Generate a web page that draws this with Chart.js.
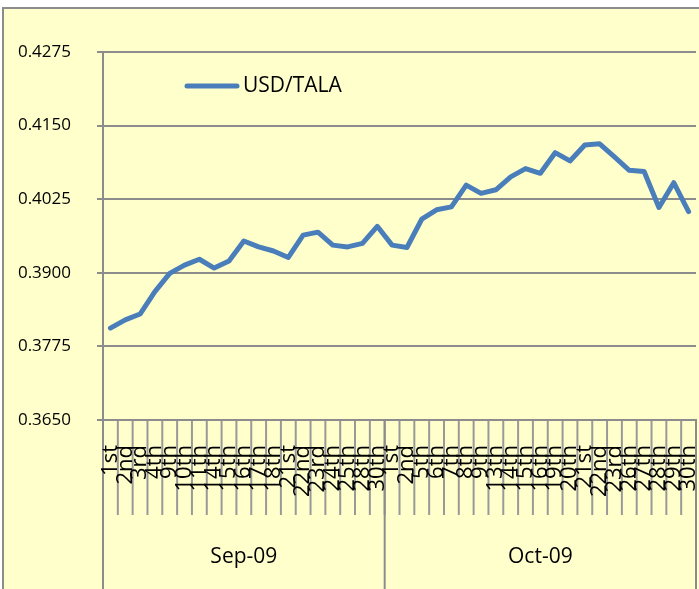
<!DOCTYPE html>
<html>
<head>
<meta charset="utf-8">
<script src="https://cdn.jsdelivr.net/npm/chart.js@4"></script>
<style>
html,body{margin:0;padding:0;background:#fff;}
#wrap{position:absolute;left:0;top:0;width:699px;height:589px;}
</style>
</head>
<body>
<div id="wrap"><canvas id="c" width="699" height="589"></canvas></div>
<script>
// ---- data ----
const months = ['Sep-09', 'Oct-09'];
const sepDays = ['1st','2nd','3rd','4th','9th','10th','11th','14th','15th','16th','17th','18th','21st','22nd','23rd','24th','25th','28th','30th'];
const octDays = ['1st','2nd','5th','6th','7th','8th','9th','13th','14th','15th','16th','19th','20th','21st','22nd','23rd','26th','27th','28th','29th','30th'];
const sepValues = [0.3806,0.3820,0.3830,0.3868,0.3899,0.3913,0.3923,0.3908,0.3920,0.3954,0.3944,0.3937,0.3926,0.3964,0.3969,0.3947,0.3944,0.3950,0.3979];
const octValues = [0.3947,0.3943,0.3991,0.4007,0.4012,0.4049,0.4035,0.4041,0.4063,0.4077,0.4069,0.4104,0.4090,0.4117,0.4119,0.4097,0.4074,0.4072,0.4011,0.4053,0.4004];
const seriesName = 'USD/TALA';
const yMin = 0.3650, yMax = 0.4275, yStep = 0.0125;

const labels = sepDays.concat(octDays);
const values = sepValues.concat(octValues);
const groupSizes = [sepDays.length, octDays.length];

const GRID = '#8c8c8c';
const LINE = '#4A7EBB';
const FONT = "'Open Sans', sans-serif";

const decor = {
  id: 'decor',
  beforeDraw(chart) {
    const c = chart.ctx, W = chart.width, H = chart.height;
    const xs = chart.scales.x, area = chart.chartArea;
    c.save();
    c.fillStyle = '#ffffff'; c.fillRect(0, 0, W, H);
    c.fillStyle = '#FFFFCC'; c.fillRect(4, 9, W - 4, H - 9);
    c.strokeStyle = GRID; c.lineWidth = 2;
    c.beginPath(); c.moveTo(3, H); c.lineTo(3, 8); c.lineTo(W, 8); c.stroke();
    // category boundaries below the axis
    const n = labels.length;
    const half = (xs.getPixelForValue(1) - xs.getPixelForValue(0)) / 2;
    c.strokeStyle = '#999999'; c.lineWidth = 2;
    for (let i = 0; i <= n; i++) {
      const px = i < n ? xs.getPixelForValue(i) - half : xs.getPixelForValue(n - 1) + half;
      c.beginPath(); c.moveTo(px, area.bottom); c.lineTo(px, area.bottom + 95); c.stroke();
    }
    // group dividers + month labels
    let start = 0;
    const bounds = [xs.getPixelForValue(0) - half];
    groupSizes.forEach(s => { start += s; bounds.push(xs.getPixelForValue(start - 1) + half); });
    c.strokeStyle = GRID; c.lineWidth = 2;
    bounds.forEach(b => { c.beginPath(); c.moveTo(b, area.bottom); c.lineTo(b, H); c.stroke(); });
    c.fillStyle = '#000'; c.font = '21px ' + FONT; c.textAlign = 'center'; c.textBaseline = 'middle';
    months.forEach((m, i) => c.fillText(m, (bounds[i] + bounds[i + 1]) / 2, 557));
    c.restore();
  },
  afterDraw(chart) {
    const c = chart.ctx;
    c.save();
    c.strokeStyle = LINE; c.lineWidth = 5; c.lineCap = 'round';
    c.beginPath(); c.moveTo(187, 86); c.lineTo(237, 86); c.stroke();
    c.fillStyle = '#000'; c.font = '21px ' + FONT; c.textAlign = 'left'; c.textBaseline = 'middle';
    c.fillText(seriesName, 243, 86);
    c.restore();
  }
};

new Chart(document.getElementById('c'), {
  type: 'line',
  data: {
    labels: labels,
    datasets: [{
      label: seriesName,
      data: values,
      borderColor: LINE,
      backgroundColor: LINE,
      borderWidth: 5,
      pointRadius: 0,
      tension: 0,
      borderJoinStyle: 'round',
      borderCapStyle: 'round'
    }]
  },
  options: {
    responsive: false,
    animation: false,
    layout: { padding: { left: 0, right: 3, top: 52, bottom: 0 } },
    plugins: { legend: { display: false }, tooltip: { enabled: false } },
    scales: {
      x: {
        type: 'category',
        offset: true,
        grid: { display: true, drawOnChartArea: false, drawTicks: false, offset: true },
        border: { display: true, color: GRID, width: 2 },
        ticks: {
          autoSkip: false, minRotation: 90, maxRotation: 90, padding: 25,
          color: '#000', font: { family: FONT, size: 22 }
        },
        afterFit(s) { s.height = 169; s.paddingLeft = 0; s.paddingRight = 0; }
      },
      y: {
        min: yMin, max: yMax,
        grid: { color: GRID, lineWidth: 2, tickLength: 6, drawTicks: true },
        border: { display: true, color: GRID, width: 2 },
        ticks: {
          stepSize: yStep, padding: 26, color: '#000',
          font: { family: FONT, size: 17 },
          callback: v => Number(v).toFixed(4)
        },
        afterFit(s) { s.width = 103; s.paddingTop = 0; s.paddingBottom = 0; }
      }
    }
  },
  plugins: [decor]
});
</script>
</body>
</html>
